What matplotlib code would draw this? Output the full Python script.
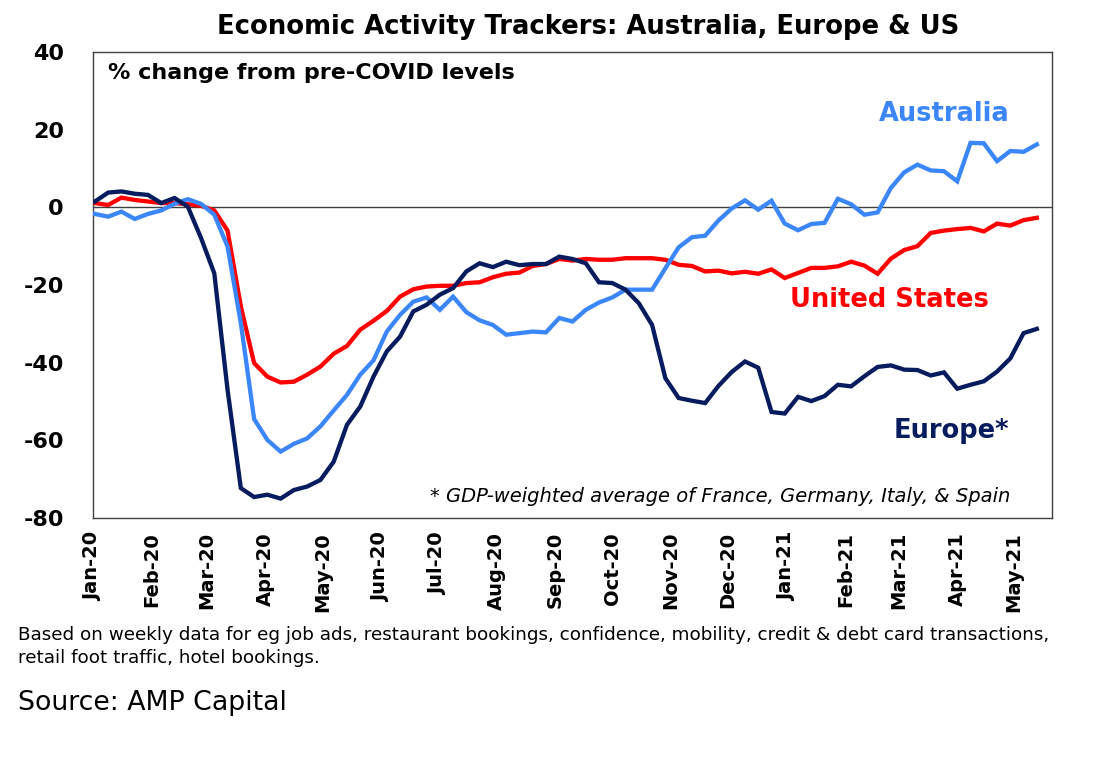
import matplotlib
matplotlib.use("Agg")
import matplotlib.pyplot as plt
import matplotlib.dates as mdates
import numpy as np
import pandas as pd

dates = pd.date_range("2020-01-02", periods=72, freq="7D")

australia = [-1.7, -2.4, -1.1, -3.0, -1.7, -0.8, 0.9, 2.1, 0.9, -1.9,
             -10.1, -29.8, -54.5, -59.9, -62.9, -60.9, -59.5, -56.4, -52.3, -48.3,
             -43.1, -39.4, -32.0, -27.7, -24.3, -23.2, -26.4, -23.0, -27.0, -29.1,
             -30.3, -32.8, -32.4, -32.0, -32.2, -28.5, -29.4, -26.4, -24.5, -23.2,
             -21.2, -21.2, -21.2, -15.7, -10.3, -7.7, -7.3, -3.4, -0.3, 1.8,
             -0.6, 1.7, -4.2, -5.9, -4.3, -4.0, 2.2, 0.8, -1.9, -1.3,
             5.0, 9.0, 11.0, 9.5, 9.3, 6.7, 16.6, 16.5, 11.9, 14.5,
             14.3, 16.2]

united_states = [1.1, 0.6, 2.5, 1.9, 1.5, 1.1, 1.1, 0.8, 0.4, -0.8,
                 -6.0, -25.5, -40.1, -43.6, -45.1, -44.9, -43.1, -41.0, -37.7, -35.7,
                 -31.5, -29.2, -26.7, -23.0, -21.1, -20.4, -20.2, -20.2, -19.5, -19.3,
                 -18.0, -17.1, -16.8, -15.1, -14.6, -13.3, -13.7, -13.3, -13.5, -13.5,
                 -13.1, -13.1, -13.1, -13.5, -14.8, -15.1, -16.5, -16.3, -17.0, -16.6,
                 -17.1, -16.0, -18.2, -16.9, -15.6, -15.6, -15.2, -14.0, -15.0, -17.1,
                 -13.2, -11.0, -10.0, -6.6, -6.0, -5.6, -5.3, -6.2, -4.2, -4.7,
                 -3.3, -2.7]

europe = [1.5, 3.8, 4.1, 3.5, 3.2, 1.1, 2.4, 0.2, -7.9, -17.0,
          -47.0, -72.3, -74.6, -74.0, -75.0, -72.8, -71.9, -70.2, -65.5, -56.0,
          -51.3, -43.6, -37.1, -33.3, -26.8, -25.1, -22.5, -20.8, -16.5, -14.4,
          -15.4, -14.0, -14.9, -14.6, -14.6, -12.7, -13.3, -14.4, -19.3, -19.5,
          -21.2, -24.7, -30.3, -44.0, -49.1, -49.8, -50.4, -46.0, -42.4, -39.7,
          -41.3, -52.7, -53.1, -48.8, -49.9, -48.6, -45.7, -46.1, -43.5, -41.1,
          -40.7, -41.8, -41.9, -43.3, -42.5, -46.7, -45.7, -44.8, -42.3, -38.9,
          -32.4, -31.3]

y_ticks = [-80, -60, -40, -20, 0, 20, 40]

C_AUS = "#3B87FA"
C_US = "#FF0000"
C_EU = "#061C5E"

plt.rcParams['font.family'] = ['DejaVu Sans']

fig = plt.figure(figsize=(10.96, 7.63), dpi=100)
ax = fig.add_axes([93/1096, 1-518/763, (1052-93)/1096, (518-52)/763])

LW = 3.1
ax.plot(dates, united_states, color=C_US, lw=LW, solid_joinstyle='miter', zorder=3)
ax.plot(dates, australia, color=C_AUS, lw=LW, solid_joinstyle='miter', zorder=4)
ax.plot(dates, europe, color=C_EU, lw=LW, solid_joinstyle='miter', zorder=5)
ax.axhline(0, color="#404040", lw=1.0, zorder=2)

ax.set_xlim(pd.Timestamp("2020-01-01"), pd.Timestamp("2021-05-21"))
ax.set_ylim(-80, 40)
ax.set_yticks(y_ticks)
ax.set_yticklabels([str(v) for v in y_ticks], fontsize=16, fontweight='bold')
ax.xaxis.set_major_locator(mdates.MonthLocator())
ax.xaxis.set_major_formatter(mdates.DateFormatter("%b-%y"))
for lab in ax.get_xticklabels():
    lab.set_rotation(90)
    lab.set_fontsize(14)
    lab.set_fontweight('bold')
ax.tick_params(axis='both', length=0)
ax.tick_params(axis='x', pad=10)
ax.tick_params(axis='y', pad=21)
for s in ax.spines.values():
    s.set_color("#404040")
    s.set_linewidth(1.0)

fig.text(588/1096, 1-27/763, "Economic Activity Trackers: Australia, Europe & US",
         ha='center', va='center', fontsize=18.6, fontweight='bold')
fig.text(108/1096, 1-73/763, "% change from pre-COVID levels",
         ha='left', va='center', fontsize=16, fontweight='bold')
fig.text(944/1096, 1-114/763, "Australia", color=C_AUS, ha='center', va='center',
         fontsize=18.5, fontweight='bold')
fig.text(889.5/1096, 1-300/763, "United States", color=C_US, ha='center', va='center',
         fontsize=18.5, fontweight='bold')
fig.text(951.5/1096, 1-431/763, "Europe*", color=C_EU, ha='center', va='center',
         fontsize=18.5, fontweight='bold')
fig.text(1010/1096, 1-497/763, "* GDP-weighted average of France, Germany, Italy, & Spain",
         ha='right', va='center', fontsize=14, style='italic')
fig.text(18/1096, 1-635/763,
         "Based on weekly data for eg job ads, restaurant bookings, confidence, mobility, credit & debt card transactions,",
         ha='left', va='center', fontsize=13.2)
fig.text(18/1096, 1-658/763, "retail foot traffic, hotel bookings.",
         ha='left', va='center', fontsize=13.2)
fig.text(18/1096, 1-703/763, "Source: AMP Capital", ha='left', va='center', fontsize=19.3)

fig.savefig("out.png", dpi=100)
